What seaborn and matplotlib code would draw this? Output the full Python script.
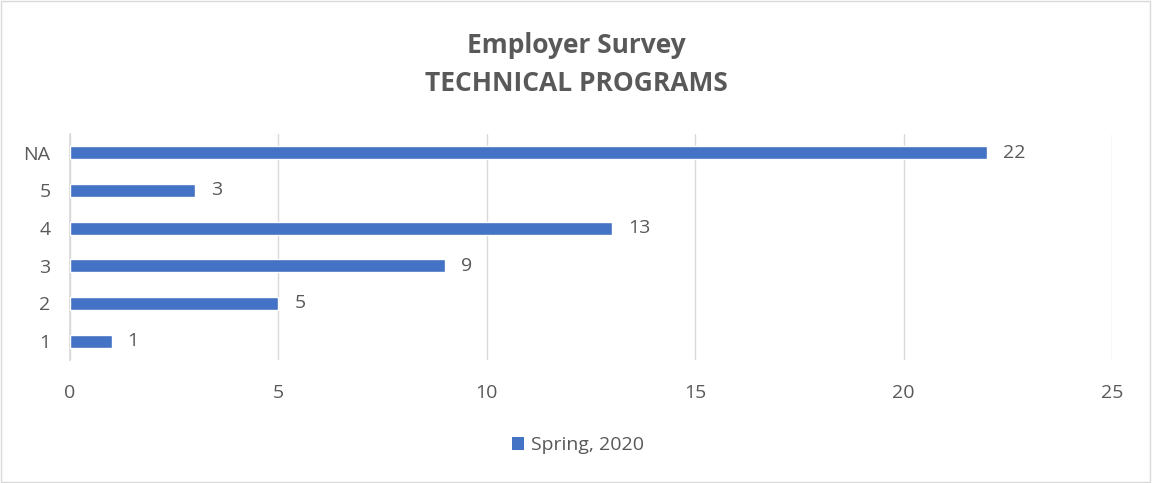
import matplotlib
matplotlib.use("Agg")
import pandas as pd
import seaborn as sns
from matplotlib import pyplot as plt
from matplotlib.patches import Rectangle

# data
categories = ["NA", "5", "4", "3", "2", "1"]
counts = [22, 3, 13, 9, 5, 1]
series_name = "Spring, 2020"
title_lines = ["Employer Survey", "TECHNICAL PROGRAMS"]

sns.set_theme(style="white")
plt.rcParams['font.family'] = ['Open Sans', 'DejaVu Sans']
text_gray = "#595959"
bar_blue = "#4472C4"
fs = 14

df = pd.DataFrame({"category": categories, "count": counts})

fig = plt.figure(figsize=(11.52, 4.83), dpi=100)
ax = fig.add_axes([0.0608, 0.2547, 0.9045, 0.4679])

sns.barplot(data=df, x="count", y="category", order=categories, color=bar_blue,
            width=0.35, saturation=1, ax=ax, zorder=3)

ax.set_xlim(0, 25)
ax.set_xticks(range(0, 26, 5))
ax.grid(axis="x", color="#d9d9d9", linewidth=1, zorder=0)
ax.grid(axis="y", visible=False)
for side in ["top", "right", "bottom"]:
    ax.spines[side].set_visible(False)
ax.spines["left"].set_color("#d9d9d9")
ax.set_xlabel("")
ax.set_ylabel("")
ax.tick_params(axis="both", length=0, labelsize=fs, labelcolor=text_gray)
ax.tick_params(axis="x", pad=17)
ax.tick_params(axis="y", pad=14)

for i, v in enumerate(counts):
    ax.text(v + 0.38, i, str(v), va="center", ha="left", fontsize=fs, color=text_gray)

fig.text(0.5, 0.905, title_lines[0], ha="center", va="center", fontsize=19,
         fontweight="bold", color=text_gray)
fig.text(0.5, 0.828, title_lines[1], ha="center", va="center", fontsize=19,
         fontweight="bold", color=text_gray)

# legend
fig.patches.append(Rectangle((0.4444, 0.068), 0.0104, 0.027, transform=fig.transFigure,
                             facecolor=bar_blue, edgecolor="none"))
fig.text(0.461, 0.079, series_name, ha="left", va="center", fontsize=fs, color=text_gray)

# outer border
fig.patches.append(Rectangle((0.001, 0.002), 0.997, 0.995, transform=fig.transFigure,
                             facecolor="none", edgecolor="#d9d9d9", linewidth=1))

fig.savefig("out.png", dpi=100)
